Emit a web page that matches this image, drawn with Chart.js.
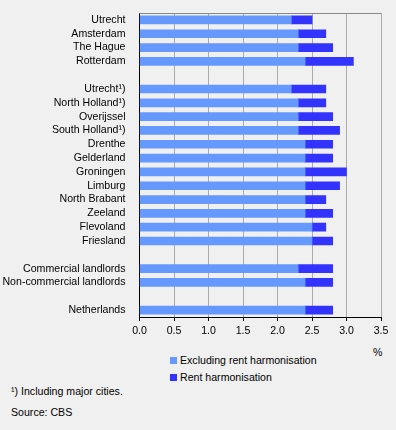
<!DOCTYPE html>
<html><head><meta charset="utf-8">
<script src="https://cdn.jsdelivr.net/npm/chart.js@4/dist/chart.umd.min.js"></script>
<style>
html,body{margin:0;padding:0;background:#f0f0f0;}
#wrap{position:relative;width:396px;height:430px;font-family:"Liberation Sans",Arial,sans-serif;font-size:10.6px;color:#000;}
#cv{position:absolute;left:0;top:0;width:396px;height:341px;}
.t{position:absolute;white-space:nowrap;line-height:13px;}
.sw{display:inline-block;width:7px;height:7px;margin-right:3px;vertical-align:0px;}
</style></head>
<body>
<div id="wrap">
<div id="cv"><canvas id="c" width="396" height="341"></canvas></div>
<div class="t" style="left:373px;top:346px;">%</div>
<div id="legend"></div>
<div class="t" style="left:11px;top:385px;">¹) Including major cities.</div>
<div class="t" style="left:11px;top:406px;">Source: CBS</div>
</div>
<script>
const categories = ["Utrecht","Amsterdam","The Hague","Rotterdam","",
  "Utrecht¹)","North Holland¹)","Overijssel","South Holland¹)","Drenthe","Gelderland","Groningen","Limburg","North Brabant","Zeeland","Flevoland","Friesland","",
  "Commercial landlords","Non-commercial landlords","","Netherlands"];
const excludingRentHarmonisation = [2.2,2.3,2.3,2.4,null,
  2.2,2.3,2.3,2.3,2.4,2.4,2.4,2.4,2.4,2.4,2.5,2.5,null,
  2.3,2.4,null,2.4];
const rentHarmonisation = [0.3,0.4,0.5,0.7,null,
  0.5,0.4,0.5,0.6,0.4,0.4,0.6,0.5,0.3,0.4,0.2,0.3,null,
  0.5,0.4,null,0.4];
const xTicks = [0,0.5,1,1.5,2,2.5,3,3.5];
const seriesNames = ["Excluding rent harmonisation","Rent harmonisation"];
const colors = ["#6699ff","#3333ff"];

const frame = {
  id:'frame',
  afterDraw(chart){
    const {ctx, chartArea:a} = chart;
    ctx.save();
    ctx.strokeStyle='#888';ctx.lineWidth=1;
    ctx.beginPath();ctx.moveTo(a.left,Math.round(a.top)+0.5);ctx.lineTo(a.right,Math.round(a.top)+0.5);ctx.stroke();
    ctx.restore();
  }
};

const font = {family:'"Liberation Sans", Arial, sans-serif', size:10.6};
const chart = new Chart(document.getElementById('c'),{
  type:'bar',
  data:{labels:categories,datasets:[
    {label:seriesNames[0],data:excludingRentHarmonisation,backgroundColor:colors[0],barThickness:8},
    {label:seriesNames[1],data:rentHarmonisation,backgroundColor:colors[1],barThickness:8}
  ]},
  options:{
    indexAxis:'y',responsive:false,animation:false,
    layout:{padding:{left:0,right:15,top:13,bottom:0}},
    plugins:{legend:{display:false},tooltip:{enabled:false}},
    scales:{
      x:{stacked:true,min:0,max:3.5,
        afterBuildTicks(s){s.ticks=xTicks.map(v=>({value:v}));},
        afterFit(s){s.height=24;},
        ticks:{font,color:'#000',padding:4,maxRotation:0,callback:v=>v.toFixed(1)},
        grid:{color:'#aaaaaa',tickColor:'#000',tickLength:4},
        border:{color:'#000'}},
      y:{stacked:true,
        afterFit(s){s.width=139.5;},
        ticks:{font,color:'#000',padding:6,autoSkip:false},
        grid:{display:false},
        border:{color:'#000'}}
    }
  },
  plugins:[frame]
});

const lg=document.getElementById('legend');
seriesNames.forEach((n,i)=>{
  const d=document.createElement('div');d.className='t';
  d.style.left='170px';d.style.top=(354+i*17)+'px';
  d.innerHTML='<span class="sw" style="background:'+colors[i]+'"></span>'+n;
  lg.appendChild(d);
});
</script>
</body></html>
